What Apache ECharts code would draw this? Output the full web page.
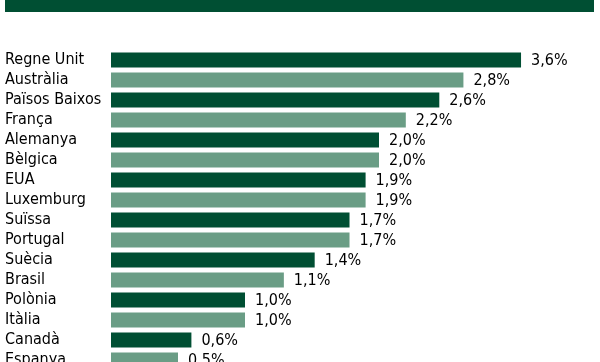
<!DOCTYPE html>
<html>
<head>
<meta charset="utf-8">
<script src="https://cdn.jsdelivr.net/npm/echarts@6/dist/echarts.min.js"></script>
<style>
html,body{margin:0;padding:0;background:#fff;}
#chart{width:600px;height:362px;}
</style>
</head>
<body>
<div id="chart"></div>
<script>
var categories = ["Regne Unit","Austràlia","Països Baixos","França","Alemanya","Bèlgica","EUA","Luxemburg","Suïssa","Portugal","Suècia","Brasil","Polònia","Itàlia","Canadà","Espanya"];
// bar lengths as drawn in the picture (%)
var values = [3.06, 2.63, 2.45, 2.20, 2.00, 2.00, 1.90, 1.90, 1.78, 1.78, 1.52, 1.29, 1.00, 1.00, 0.60, 0.50];
// printed value labels
var valueLabels = ["3,6%","2,8%","2,6%","2,2%","2,0%","2,0%","1,9%","1,9%","1,7%","1,7%","1,4%","1,1%","1,0%","1,0%","0,6%","0,5%"];

var DARK = "#004f33";
var LIGHT = "#6a9d85";
var FONT = "'DejaVu Sans Condensed', 'Liberation Sans Narrow', sans-serif";

var chart = echarts.init(document.getElementById('chart'), null, {renderer:'canvas'});
chart.setOption({
  animation: false,
  backgroundColor: '#ffffff',
  graphic: [{
    type: 'rect',
    shape: {x: 5, y: -2, width: 589, height: 14},
    style: {fill: DARK}
  }],
  grid: {left: 111, top: 50, width: 469, height: 320, containLabel: false, outerBoundsMode: 'none'},
  xAxis: {
    type: 'value', min: 0, max: 3.5,
    show: false
  },
  yAxis: {
    type: 'category',
    data: categories,
    inverse: true,
    axisLine: {show: false},
    axisTick: {show: false},
    splitLine: {show: false},
    axisLabel: {
      interval: 0,
      align: 'left',
      margin: 106,
      fontFamily: FONT,
      fontSize: 16,
      color: '#000000'
    }
  },
  series: [{
    type: 'bar',
    data: values.map(function(v, i){
      return {value: v, itemStyle: {color: i % 2 === 0 ? DARK : LIGHT}};
    }),
    barCategoryGap: '25%',
    label: {
      show: true,
      position: 'right',
      distance: 10,
      offset: [0, 1],
      fontFamily: FONT,
      fontSize: 16,
      color: '#000000',
      formatter: function(p){ return valueLabels[p.dataIndex]; }
    }
  }]
});
</script>
</body>
</html>
